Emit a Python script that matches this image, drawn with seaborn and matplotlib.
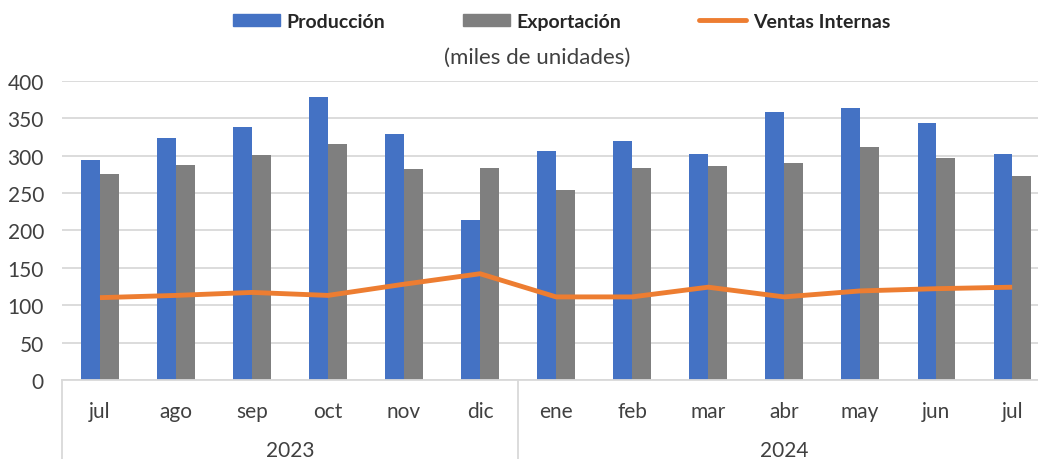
import numpy as np
import pandas as pd
import seaborn as sns
import matplotlib.pyplot as plt
from matplotlib.patches import Patch
from matplotlib.lines import Line2D
from matplotlib import transforms


# Data (miles de unidades)
months = ["jul", "ago", "sep", "oct", "nov", "dic",
          "ene", "feb", "mar", "abr", "may", "jun", "jul"]
years = ["2023"] * 6 + ["2024"] * 7
produccion = [294, 324, 338, 378, 329, 214, 306, 319, 302, 358, 364, 343, 302]
exportacion = [275, 287, 301, 316, 282, 283, 254, 284, 286, 290, 311, 297, 273]
ventas = [110, 113, 117, 113, 128, 142, 111, 111, 124, 111, 119, 122, 124]

keys = [m + "-" + y for m, y in zip(months, years)]

c_prod = "#4472C4"
c_exp = "#7F7F7F"
c_ven = "#ED7D31"
txt = "#404040"


def main():
    sns.set_theme(style="white")
    plt.rcParams['font.family'] = ['Lato', 'DejaVu Sans']

    df = pd.DataFrame({"key": keys, "Producción": produccion, "Exportación": exportacion})
    df_long = df.melt(id_vars="key", var_name="serie", value_name="valor")

    fig = plt.figure(figsize=(10.38, 4.6), dpi=100)
    # plot area runs a bit past the right edge of the picture, as in the source
    ax = fig.add_axes([0.0597, 0.172, 0.952, 0.65])

    sns.barplot(data=df_long, x="key", y="valor", hue="serie", order=keys,
                hue_order=["Producción", "Exportación"],
                palette=[c_prod, c_exp], width=0.49, gap=0,
                saturation=1, legend=False, linewidth=0, ax=ax)
    sns.pointplot(x=keys, y=ventas, order=keys, color=c_ven, markers="",
                  errorbar=None, ax=ax, lw=3.5)
    for l in ax.lines:
        l.set_zorder(5)
        l.set_solid_capstyle("butt")

    ax.set_xlim(-0.5, len(keys) - 0.5)
    ax.set_ylim(0, 400)
    ax.set_yticks(range(0, 401, 50))
    ax.yaxis.grid(True, color="#D9D9D9", lw=1.3)
    ax.set_axisbelow(True)
    ax.set_xlabel("")
    ax.set_ylabel("")
    ax.set_xticks(range(len(keys)))
    ax.set_xticklabels(months)
    ax.tick_params(axis="x", length=0, pad=15, labelsize=15, colors=txt)
    ax.tick_params(axis="y", length=0, pad=13, labelsize=15, colors=txt)
    for s in ["top", "right", "left"]:
        ax.spines[s].set_visible(False)
    ax.spines["bottom"].set_color("#D9D9D9")
    ax.spines["bottom"].set_linewidth(1.3)

    # Year grouping below the month labels
    trans = transforms.blended_transform_factory(ax.transData, ax.transAxes)
    for xs in [-0.5, 5.5, len(keys) - 0.5]:
        ax.plot([xs, xs], [0, -0.28], transform=trans, color="#D9D9D9",
                lw=1.3, clip_on=False)
    ax.text(2.5, -0.234, "2023", transform=trans, ha="center", va="center",
            fontsize=15, color=txt)
    ax.text(9.0, -0.234, "2024", transform=trans, ha="center", va="center",
            fontsize=15, color=txt)

    # Legend and subtitle
    handles = [Patch(color=c_prod), Patch(color=c_exp),
               Line2D([0], [0], color=c_ven, lw=3.5)]
    fig.legend(handles, ["Producción", "Exportación", "Ventas Internas"],
               loc="center", bbox_to_anchor=(0.541, 0.952), ncol=3,
               frameon=False, prop={"weight": "bold", "size": 14},
               handlelength=2.4, handleheight=0.6, handletextpad=0.35,
               columnspacing=4.0)
    fig.text(0.518, 0.874, "(miles de unidades)", ha="center", va="center",
             fontsize=16, color=txt)

    fig.savefig("out.png", dpi=100)


if __name__ == "__main__":
    main()
